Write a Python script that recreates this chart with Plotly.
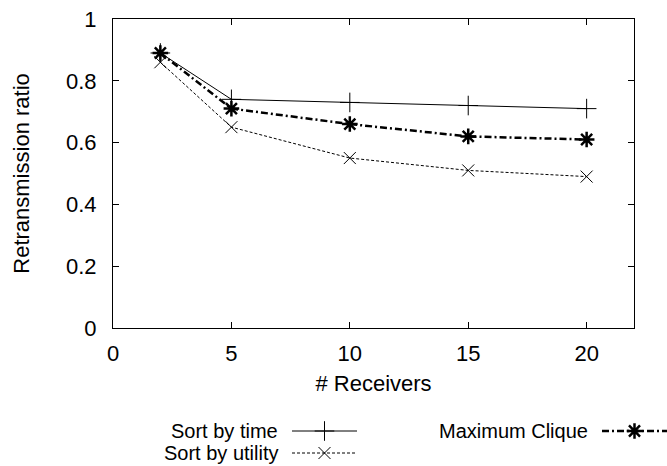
import plotly.graph_objects as go

# Data
receivers = [2, 5, 10, 15, 20]
sort_by_time = [0.89, 0.74, 0.73, 0.72, 0.71]
sort_by_utility = [0.86, 0.65, 0.55, 0.51, 0.49]
maximum_clique = [0.89, 0.71, 0.66, 0.62, 0.61]

x_ticks = [0, 5, 10, 15, 20]
y_ticks = [0, 0.2, 0.4, 0.6, 0.8, 1.0]
y_tick_text = ["0", "0.2", "0.4", "0.6", "0.8", "1"]

W, H = 667, 466
FAMILY = "Liberation Sans, Arial, Helvetica, sans-serif"
FONT = dict(family=FAMILY, size=22, color="black")
KEY_FONT = dict(family=FAMILY, size=20, color="black")

# Plot frame in pixels
PL, PR, PT, PB = 113, 634, 19, 328

series = [
    dict(name="Sort by time", y=sort_by_time, dash="solid", width=1,
         symbol="cross-thin", msize=14, mlw=1),
    dict(name="Sort by utility", y=sort_by_utility, dash="3px,2px", width=1,
         symbol="x-thin", msize=12, mlw=1),
    dict(name="Maximum Clique", y=maximum_clique, dash="7px,3px,2px,3px", width=2.5,
         symbol="asterisk", msize=13, mlw=2.5),
]

fig = go.Figure()
for s in series:
    fig.add_trace(go.Scatter(
        x=receivers, y=s["y"], mode="lines+markers", name=s["name"],
        line=dict(color="black", width=s["width"], dash=s["dash"]),
        marker=dict(symbol=s["symbol"], size=s["msize"], color="black",
                    line=dict(color="black", width=s["mlw"])),
        showlegend=False, xaxis="x", yaxis="y",
    ))

# Key: text on the left, line sample with marker on the right
key_rows = [
    (series[0], 279, 292, 357, 431),
    (series[1], 279, 292, 357, 453),
    (series[2], 589, 602, 667, 431),
]
for s, tx, x0, x1, yy in key_rows:
    fig.add_trace(go.Scatter(
        x=[x0, x1], y=[yy, yy], mode="lines",
        line=dict(color="black", width=s["width"], dash=s["dash"]),
        showlegend=False, xaxis="x2", yaxis="y2", hoverinfo="skip",
    ))
    fig.add_trace(go.Scatter(
        x=[(x0 + x1) / 2], y=[yy], mode="markers",
        marker=dict(symbol=s["symbol"], size=s["msize"], color="black",
                    line=dict(color="black", width=s["mlw"])),
        showlegend=False, xaxis="x2", yaxis="y2", hoverinfo="skip",
    ))
    fig.add_annotation(x=tx, y=yy, xref="x2", yref="y2", text=s["name"],
                       showarrow=False, xanchor="right", yanchor="middle",
                       font=KEY_FONT, borderpad=0)

axis_common = dict(
    showline=True, linecolor="black", linewidth=1, mirror="allticks",
    ticks="inside", ticklen=6, tickwidth=1, tickcolor="black",
    showgrid=False, zeroline=False, tickfont=FONT,
)

fig.update_layout(
    width=W, height=H,
    margin=dict(l=0, r=0, t=0, b=0, autoexpand=False),
    paper_bgcolor="white", plot_bgcolor="rgba(0,0,0,0)",
    font=FONT,
    xaxis=dict(domain=[PL / W, PR / W], range=[0, 22], tickvals=x_ticks,
               title=dict(text="# Receivers", font=FONT, standoff=10),
               ticklabelstandoff=6, anchor="y", **axis_common),
    yaxis=dict(domain=[1 - PB / H, 1 - PT / H], range=[0, 1], tickvals=y_ticks,
               ticktext=y_tick_text,
               title=dict(text="Retransmission ratio", font=FONT, standoff=30),
               ticklabelstandoff=11, anchor="x", **axis_common),
    xaxis2=dict(domain=[0, 1], range=[0, W], visible=False, anchor="y2",
                fixedrange=True),
    yaxis2=dict(domain=[0, 1], range=[H, 0], visible=False, anchor="x2",
                fixedrange=True),
)

fig.write_html("out.html")
